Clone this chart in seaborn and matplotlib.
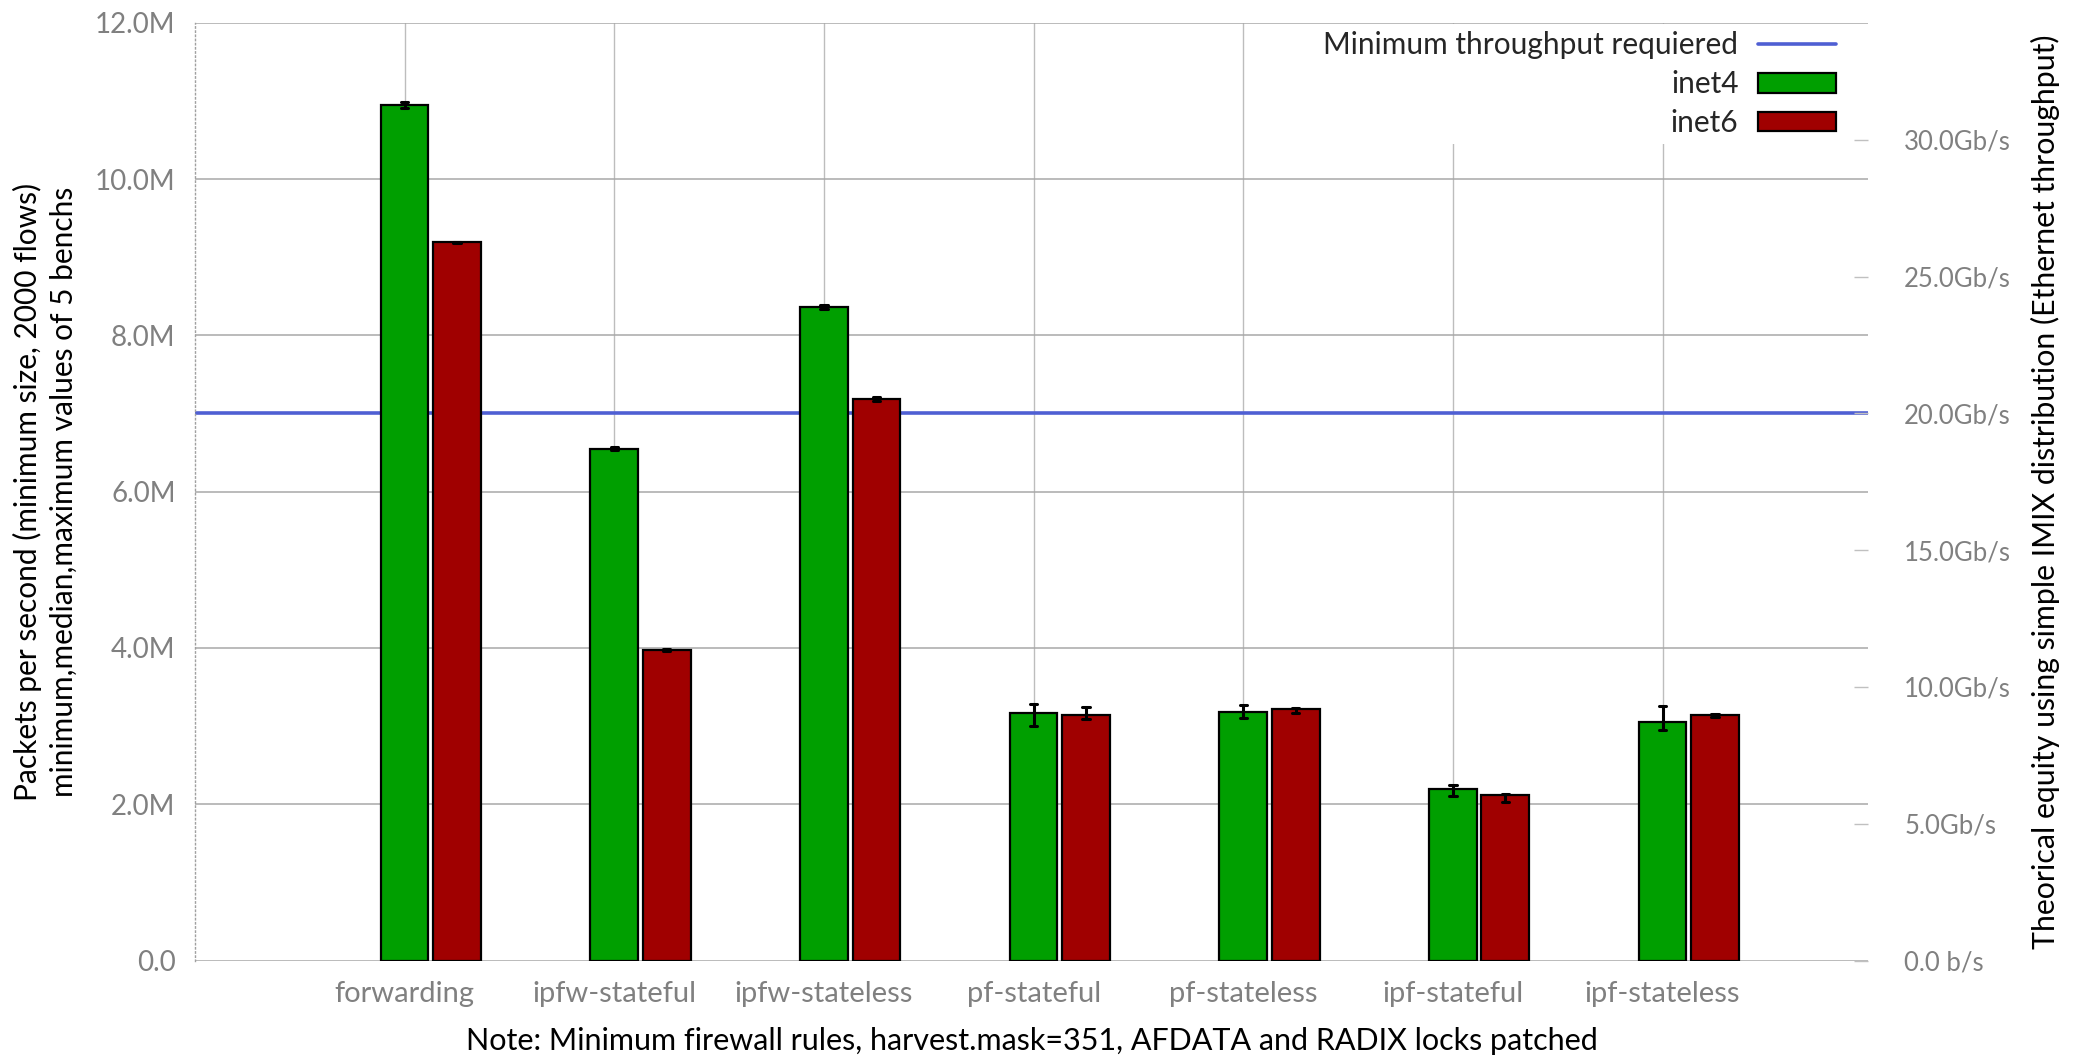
import numpy as np
import pandas as pd
import matplotlib
matplotlib.use("Agg")
import matplotlib.pyplot as plt
from matplotlib.lines import Line2D
from matplotlib.patches import Patch
import seaborn as sns

# Benchmark results, packets per second in millions (min / median / max of 5 benches)
categories = ["forwarding", "ipfw-stateful", "ipfw-stateless", "pf-stateful",
              "pf-stateless", "ipf-stateful", "ipf-stateless"]
families = ["inet4", "inet6"]

inet4_median = [10.95, 6.545, 8.365, 3.17, 3.18, 2.19, 3.055]
inet4_min = [10.91, 6.532, 8.34, 3.00, 3.107, 2.109, 2.953]
inet4_max = [10.985, 6.567, 8.39, 3.28, 3.27, 2.242, 3.253]

inet6_median = [9.19, 3.975, 7.19, 3.137, 3.222, 2.122, 3.137]
inet6_min = [9.18, 3.96, 7.16, 3.094, 3.167, 2.024, 3.12]
inet6_max = [9.20, 3.99, 7.21, 3.24, 3.235, 2.13, 3.15]

min_required = 7.0            # Mpps needed for the target throughput
gbps_per_mpps = 20.0 / 7.0    # simple IMIX equivalence: 7 Mpps ~ 20 Gb/s

left_ticks = [0, 2, 4, 6, 8, 10, 12]
right_ticks = [0, 5, 10, 15, 20, 25, 30]

colors = {"inet4": "#009f00", "inet6": "#a00000"}
line_color = "#4f5fd3"
grey = "#808080"

# long-form table: one row per (category, family, statistic)
rows = []
for fam, mins, meds, maxs in [("inet4", inet4_min, inet4_median, inet4_max),
                              ("inet6", inet6_min, inet6_median, inet6_max)]:
    for cat, lo, md, hi in zip(categories, mins, meds, maxs):
        for v in (lo, md, hi):
            rows.append({"test": cat, "family": fam, "mpps": v})
df = pd.DataFrame(rows)

sns.set_theme(style="white")
plt.rcParams["font.family"] = ["Lato", "DejaVu Sans"]

fig = plt.figure(figsize=(20.8, 10.62), dpi=100)
ax = fig.add_axes([195 / 2080, 1 - 960.5 / 1062, (1868 - 195) / 2080, (960.5 - 22.7) / 1062])

sns.barplot(data=df, x="test", y="mpps", hue="family", order=categories,
            hue_order=families, palette=colors, estimator="median",
            errorbar=("pi", 100), capsize=0.07, width=0.5, gap=0.09,
            saturation=1, edgecolor="black", linewidth=1.6,
            err_kws={"color": "black", "linewidth": 2.2, "zorder": 5},
            legend=False, ax=ax, zorder=3)

# minimum throughput reference line (behind bars)
ax.axhline(min_required, color=line_color, linewidth=2.6, zorder=2)

# axes ranges and ticks
n = len(categories)
centers = np.arange(n) - 0.125
ax.set_xlim(-1.125, n - 0.145)
ax.set_ylim(0, 12)
ax.set_xticks(centers)
ax.set_xticklabels(categories, fontsize=21, color=grey)
ax.set_yticks(left_ticks)
ax.set_yticklabels([f"{t:.1f}M" if t else "0.0" for t in left_ticks], fontsize=20, color=grey)
ax.tick_params(axis="x", length=0, pad=15)
ax.tick_params(axis="y", length=0, pad=14)

# grid
ax.set_axisbelow(True)
ax.yaxis.grid(True, color="#a8a8a8", linewidth=1.1, zorder=0)
ax.xaxis.grid(True, color="#bdbdbd", linewidth=1.0, zorder=0)

for side in ["top", "right", "bottom"]:
    ax.spines[side].set_visible(False)
ax.spines["left"].set_linestyle((0, (1, 2)))
ax.spines["left"].set_color("#a0a0a0")
ax.spines["left"].set_linewidth(1.0)

ax.set_xlabel("Note: Minimum firewall rules, harvest.mask=351, AFDATA and RADIX locks patched",
              fontsize=22, color="black", labelpad=14)
ax.set_ylabel("Packets per second (minimum size, 2000 flows)\nminimum,median,maximum values of 5 benchs",
              fontsize=21.5, color="black", labelpad=12, linespacing=1.35)

# secondary axis: equivalent Ethernet throughput
ax2 = ax.twinx()
ax2.set_ylim(0, 12 * gbps_per_mpps)
ax2.set_yticks(right_ticks)
ax2.set_yticklabels([f"{t:.1f}Gb/s" if t else "0.0 b/s" for t in right_ticks],
                    fontsize=18.5, color=grey)
ax2.tick_params(axis="y", direction="in", length=10, width=1, color="#c0c0c0", pad=26)
ax2.grid(False)
for side in ["top", "right", "bottom", "left"]:
    ax2.spines[side].set_visible(False)
ax2.set_ylabel("Theorical equity using simple IMIX distribution (Ethernet throughput)",
               fontsize=21.8, color="black", labelpad=14)

# legend
handles = [Line2D([0], [0], color=line_color, linewidth=2.6),
           Patch(facecolor=colors["inet4"], edgecolor="black", linewidth=1.6),
           Patch(facecolor=colors["inet6"], edgecolor="black", linewidth=1.6)]
labels = ["Minimum throughput requiered", "inet4", "inet6"]
leg = ax2.legend(handles, labels, loc="upper right", markerfirst=False,
                 bbox_to_anchor=(1843 / 2080, 1 - 24 / 1062), bbox_transform=fig.transFigure,
                 frameon=True, facecolor="white", edgecolor="none", framealpha=1,
                 fontsize=21.5, handlelength=2.6, handleheight=0.65, handletextpad=0.65,
                 labelspacing=0.36, borderpad=0.25, borderaxespad=0, fancybox=False)
leg.set_zorder(10)

fig.savefig("out.png", dpi=100)
